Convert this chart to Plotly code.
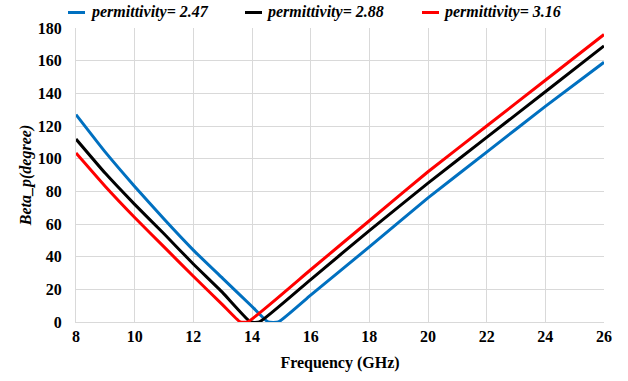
import plotly.graph_objects as go

# Frequency (GHz) and Beta_p (degree)
freq_247 = [8, 9, 10, 11, 12, 13, 14, 14.55, 14.9, 16, 18, 20, 22, 24, 26]
beta_247 = [127, 104, 83, 63, 44, 26.7, 9.5, 0, 0, 16.4, 46, 76, 104, 132, 159]

freq_288 = [8, 9, 10, 11, 12, 13, 13.95, 14.25, 16, 18, 20, 22, 24, 26]
beta_288 = [112, 91, 72, 54, 35.5, 18, 0, 0, 26, 56, 85, 113, 141, 169]

freq_316 = [8, 9, 10, 11, 12, 13, 13.6, 13.85, 16, 18, 20, 22, 24, 26]
beta_316 = [103.5, 83, 64, 46, 28, 10.5, 0, 0, 32, 62, 92, 120, 148, 176]

names = ["permittivity= 2.47", "permittivity= 2.88", "permittivity= 3.16"]
colors = ["#0070C0", "#000000", "#FF0000"]

x_ticks = [8, 10, 12, 14, 16, 18, 20, 22, 24, 26]
y_ticks = [0, 20, 40, 60, 80, 100, 120, 140, 160, 180]

FONT = "Liberation Serif"

fig = go.Figure()
for xs, ys, nm, c in zip([freq_247, freq_288, freq_316],
                         [beta_247, beta_288, beta_316], names, colors):
    fig.add_trace(go.Scatter(x=xs, y=ys, mode="lines", name=nm,
                             line=dict(color=c, width=3, shape="spline", smoothing=0.4),
                             showlegend=False, hoverinfo="skip"))

# manual legend: short coloured bars (annotation boxes) + italic bold text
leg_x = [-0.015, 0.32, 0.655]
for lx, nm, c in zip(leg_x, names, colors):
    fig.add_annotation(xref="paper", yref="paper", x=lx, y=1.054,
                       text=" ", showarrow=False, xanchor="left", yanchor="middle",
                       width=17, height=3, bgcolor=c, borderpad=0, borderwidth=0,
                       font=dict(family=FONT, size=2))
    fig.add_annotation(xref="paper", yref="paper", x=lx + 0.037, y=1.054,
                       text="<b><i>" + nm + "</i></b>", showarrow=False,
                       xanchor="left", yanchor="middle",
                       font=dict(family=FONT, size=16, color="#000000"))

fig.update_layout(
    width=628, height=381,
    margin=dict(l=76, r=24, t=28, b=59),
    paper_bgcolor="white", plot_bgcolor="white",
    font=dict(family=FONT, color="#000000"),
    xaxis=dict(range=[8, 26], tickvals=x_ticks,
               ticktext=["<b>%d</b>" % v for v in x_ticks], showgrid=True,
               gridcolor="#D9D9D9", gridwidth=1, zeroline=False,
               showline=True, linecolor="#D9D9D9", linewidth=1,
               tickfont=dict(family=FONT, size=16, color="#000000"),
               title=dict(text="<b>Frequency (GHz)</b>", standoff=12,
                          font=dict(family=FONT, size=16, color="#000000"))),
    yaxis=dict(range=[0, 180], tickvals=y_ticks,
               ticktext=["<b>%d</b>" % v for v in y_ticks], showgrid=True,
               gridcolor="#D9D9D9", gridwidth=1, zeroline=False,
               showline=True, linecolor="#D9D9D9", linewidth=1,
               ticks="outside", ticklen=10, tickcolor="white",
               tickfont=dict(family=FONT, size=16, color="#000000"),
               title=dict(text="<b><i>Beta_p(degree)</i></b>", standoff=2,
                          font=dict(family=FONT, size=16, color="#000000"))),
)

post = (
    "document.body.style.margin='0';"
    "var st=document.createElement('style');"
    "st.textContent='svg text, svg tspan {font-family: \"Liberation Serif\", \"Times New Roman\", serif !important;}';"
    "document.head.appendChild(st);"
)

fig.write_html("out.html", config={"displayModeBar": False}, post_script=post)
